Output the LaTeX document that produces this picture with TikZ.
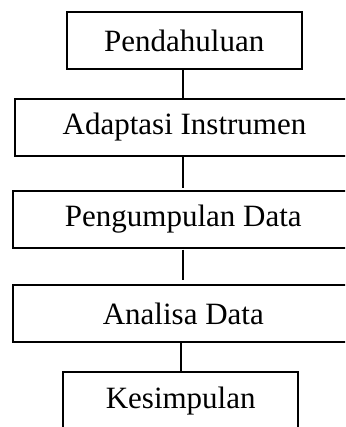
\documentclass[tikz,border=0pt]{standalone}
\usepackage{fontspec}
\setmainfont{Liberation Serif}
\begin{document}
\begin{tikzpicture}[x=1pt,y=-1pt,
  stagebox/.style={draw=black,line width=2.1pt,inner sep=0pt,outer sep=0pt,
    font=\fontsize{31}{36}\selectfont,text=black},
  link/.style={draw=black,line width=2pt}]
\useasboundingbox (0,0) rectangle (345,427);
\clip (0,0) rectangle (345,427);
\node[stagebox,minimum width=235pt,minimum height=57.6pt] (n1) at (184.2,40.5) {Pendahuluan};
\node[stagebox,minimum width=339pt,minimum height=56.7pt] (n2) at (184.5,127.3) {Adaptasi Instrumen};
\node[stagebox,minimum width=341.3pt,minimum height=56.7pt] (n3) at (183.3,219.3) {Pengumpulan Data};
\node[stagebox,minimum width=341.3pt,minimum height=57.3pt] (n4) at (183.3,313.7) {Analisa Data};
\node[stagebox,minimum width=234.7pt,minimum height=57.7pt] (n5) at (180.7,401) {Kesimpulan};
\draw[link] ([xshift=-1.5pt]n1.south) -- ([xshift=-1.5pt]n1.south |- n2.north);
\draw[link,shorten >=3pt] ([xshift=-1.8pt]n2.south) -- ([xshift=-1.8pt]n2.south |- n3.north);
\draw[link,shorten <=2pt,shorten >=5pt] ([xshift=-0.6pt]n3.south) -- ([xshift=-0.6pt]n3.south |- n4.north);
\draw[link] (n4.south -| n5.north) -- (n5.north);
\end{tikzpicture}
\end{document}
